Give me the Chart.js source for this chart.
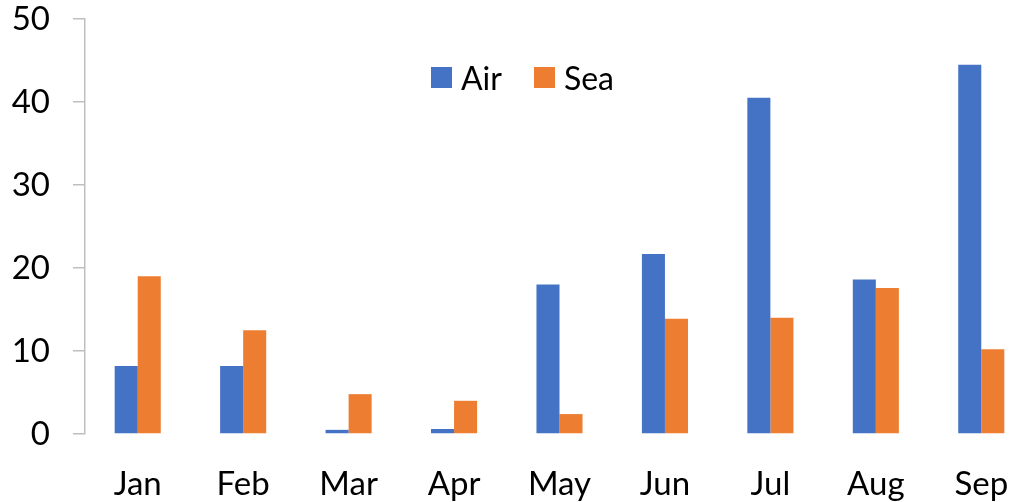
<!DOCTYPE html>
<html>
<head>
<meta charset="utf-8">
<script src="https://cdn.jsdelivr.net/npm/chart.js@4/dist/chart.umd.min.js"></script>
<style>
    html, body {
        margin: 0;
        padding: 0;
        background: #ffffff;
        overflow: hidden;
    }
    #wrap {
        position: relative;
        width: 1034px;
        height: 502px;
    }
    #legend {
        position: absolute;
        left: 431px;
        top: 58px;
        display: flex;
        align-items: center;
        font-family: Lato, sans-serif;
        font-size: 32px;
        color: #000;
    }
    .legend-item {
        display: flex;
        align-items: center;
        margin-right: 32px;
    }
    .legend-box {
        width: 21px;
        height: 21px;
        margin-right: 9px;
    }
</style>
</head>
<body>
<div id="wrap">
    <canvas id="chart" width="1034" height="502"></canvas>
    <div id="legend"></div>
</div>
<script>
// Chart data
const months = ['Jan', 'Feb', 'Mar', 'Apr', 'May', 'Jun', 'Jul', 'Aug', 'Sep'];
const airValues = [8.2, 8.2, 0.5, 0.6, 18.0, 21.7, 40.5, 18.6, 44.5];
const seaValues = [19.0, 12.5, 4.8, 4.0, 2.4, 13.9, 14.0, 17.6, 10.2];
const yTicks = [0, 10, 20, 30, 40, 50];

const airColor = '#4472C4';
const seaColor = '#ED7D31';
const axisColor = '#BFBFBF';

document.addEventListener('DOMContentLoaded', function() {
    drawChart();
});

function drawChart() {
    const ctx = document.getElementById('chart').getContext('2d');

    const datasets = [{
        label: 'Air',
        data: airValues,
        backgroundColor: airColor
    }, {
        label: 'Sea',
        data: seaValues,
        backgroundColor: seaColor
    }];

    new Chart(ctx, {
        type: 'bar',
        data: { labels: months, datasets: datasets },
        options: {
            responsive: false,
            animation: false,
            layout: { padding: { top: 19, right: 0, left: 0, bottom: 0 } },
            datasets: {
                bar: { categoryPercentage: 0.437, barPercentage: 1 }
            },
            plugins: {
                legend: { display: false },
                tooltip: { enabled: false }
            },
            scales: {
                x: {
                    grid: { display: false, drawTicks: false },
                    border: { display: false },
                    ticks: {
                        color: '#000',
                        padding: 31,
                        font: { family: 'Lato', size: 33 }
                    },
                    afterFit: function(scale) {
                        scale.height = 68;
                        scale.paddingLeft = 0;
                        scale.paddingRight = 0;
                    }
                },
                y: {
                    min: 0,
                    max: 50,
                    afterBuildTicks: function(scale) {
                        scale.ticks = yTicks.map(v => ({ value: v }));
                    },
                    grid: {
                        drawOnChartArea: false,
                        color: axisColor,
                        tickLength: 12,
                        lineWidth: 1.5
                    },
                    border: { color: axisColor, width: 1.5 },
                    ticks: {
                        color: '#000',
                        padding: 23,
                        font: { family: 'Lato', size: 33, lineHeight: 1.15 }
                    },
                    afterFit: function(scale) {
                        scale.width = 85;
                        scale.paddingTop = 0;
                        scale.paddingBottom = 0;
                    }
                }
            }
        }
    });

    // Legend placed inside the plot like the original
    const legend = document.getElementById('legend');
    legend.innerHTML = datasets.map(ds => `
        <div class="legend-item">
            <span class="legend-box" style="background:${ds.backgroundColor}"></span>
            <span>${ds.label}</span>
        </div>
    `).join('');
}
</script>
</body>
</html>
